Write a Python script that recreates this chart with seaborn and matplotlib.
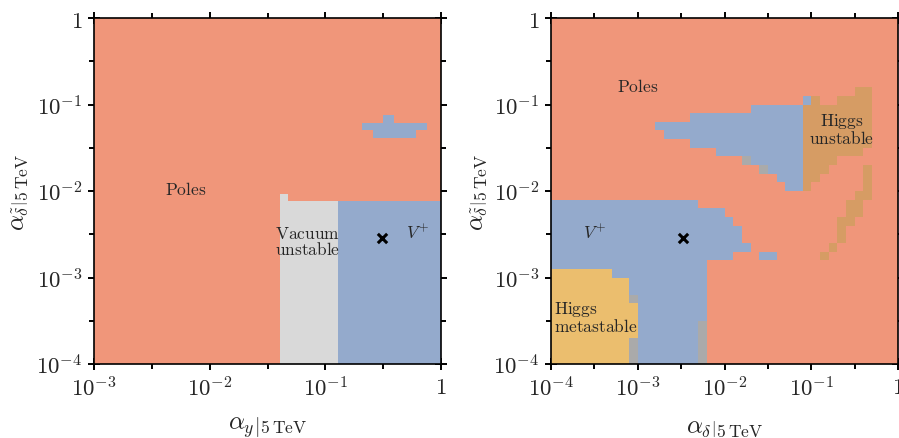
import numpy as np
import matplotlib
matplotlib.use("Agg")
import matplotlib.pyplot as plt
import seaborn as sns
from matplotlib.colors import ListedColormap, BoundaryNorm
from matplotlib.ticker import FixedLocator, NullFormatter

sns.set_theme(style="ticks")
plt.rcParams["mathtext.fontset"] = "cm"
plt.rcParams["font.family"] = ["DejaVu Serif"]

# ---------------- data ----------------
region_codes = ["P", "B", "V", "Y", "U", "G"]
region_colors = ["#F0967A", "#94AACC", "#D9D9D9", "#EBBE6E", "#D69C64", "#AAAAAA"]

# left panel: alpha_y vs alpha_delta~
left_x_range = (1e-3, 1.0)
left_y_range = (1e-4, 1.0)
vac_unstable_x = (0.0406, 0.128)      # "Vacuum unstable" band in alpha_y
stable_top = 0.0077                     # upper edge of the stable / vacuum-unstable area
vac_bump = (0.0406, 0.048, 0.0092)      # small bump on top of the grey band (x0, x1, top)
left_blob = [                           # V+ island (x0, x1, y0, y1)
    (0.2065, 0.755, 0.0512, 0.0611),
    (0.257, 0.610, 0.0410, 0.0512),
    (0.314, 0.388, 0.0611, 0.0757),
]
left_marker = (0.31, 0.0029)

# right panel: alpha_delta vs alpha_delta~, 0.1-decade cells, rows from top (run-length)
right_x_range = (1e-4, 1.0)
right_y_range = (1e-4, 1.0)
right_rows = [
    "P40", "P40", "P40", "P40", "P40", "P40", "P40", "P40",
    "P35 U2 P3",
    "P29 B1 U1 P2 U4 P3",
    "P23 B6 U8 P3",
    "P16 B13 U8 P3",
    "P12 B17 U8 P3",
    "P13 B16 U8 P3",
    "P16 B13 U8 P3",
    "P19 B10 U7 P4",
    "P22 G1 B6 U4 P7",
    "P24 G1 B4 U3 P4 U1 P3",
    "P26 B3 U2 P5 U1 P3",
    "P27 B2 U1 P6 U1 P3",
    "P35 U2 P3",
    "B17 P17 U2 P4",
    "B20 P14 U2 P4",
    "B21 P12 U2 P5",
    "B22 P11 U1 P6",
    "B22 P11 U1 P6",
    "B23 P9 U1 P7",
    "B21 P3 B2 P5 U1 P8",
    "B18 P22",
    "Y7 B11 P22",
    "Y9 B9 P22",
    "Y9 B9 P22",
    "Y9 G1 B8 P22",
    "Y10 B8 P22",
    "Y10 B8 P22",
    "Y10 B7 G1 P22",
    "Y10 B7 G1 P22",
    "Y9 G1 B7 G1 P22",
    "Y9 G1 B7 G1 P22",
    "Y9 G1 B7 G1 P22",
]
right_marker = (0.0033, 0.0029)

# ---------------- build grids ----------------
cmap = ListedColormap(region_colors)
norm = BoundaryNorm(np.arange(-0.5, len(region_codes) + 0.5), cmap.N)
code_index = {c: i for i, c in enumerate(region_codes)}

# left
lx_edges = np.logspace(np.log10(left_x_range[0]), np.log10(left_x_range[1]), 901)
ly_edges = np.logspace(np.log10(left_y_range[0]), np.log10(left_y_range[1]), 1201)
lxc = np.sqrt(lx_edges[:-1] * lx_edges[1:])
lyc = np.sqrt(ly_edges[:-1] * ly_edges[1:])
X, Y = np.meshgrid(lxc, lyc)
left_grid = np.full(X.shape, code_index["P"])
low = Y < stable_top
left_grid[low & (X >= vac_unstable_x[0]) & (X < vac_unstable_x[1])] = code_index["V"]
left_grid[low & (X >= vac_unstable_x[1])] = code_index["B"]
left_grid[(X >= vac_bump[0]) & (X < vac_bump[1]) & (Y < vac_bump[2])] = code_index["V"]
for x0, x1, y0, y1 in left_blob:
    left_grid[(X >= x0) & (X < x1) & (Y >= y0) & (Y < y1)] = code_index["B"]

# right
rows = []
for r in right_rows:
    row = []
    for tok in r.split():
        row += [code_index[tok[0]]] * int(tok[1:])
    assert len(row) == 40
    rows.append(row)
right_grid = np.array(rows)[::-1]
rx_edges = np.logspace(-4, 0, 41)
ry_edges = np.logspace(-4, 0, 41)

# ---------------- figure ----------------
fig = plt.figure(figsize=(8.99, 4.39), dpi=100)
W, H = 899, 439
axL = fig.add_axes([94 / W, 74 / H, 347 / W, 346 / H])
axR = fig.add_axes([551 / W, 74 / H, 347 / W, 346 / H])

axL.pcolormesh(lx_edges, ly_edges, left_grid, cmap=cmap, norm=norm, shading="flat",
               antialiased=False, edgecolors="none", rasterized=True)
axR.pcolormesh(rx_edges, ry_edges, right_grid, cmap=cmap, norm=norm, shading="flat",
               antialiased=False, edgecolors="none", rasterized=True)

for ax, (mx, my) in ((axL, left_marker), (axR, right_marker)):
    sns.scatterplot(x=[mx], y=[my], ax=ax, marker="x", color="black", s=45,
                    linewidth=2.2, zorder=5, legend=False)


def tick_label(v):
    e = int(round(np.log10(v)))
    return r"$1$" if e == 0 else r"$10^{%d}$" % e


def style_axis(ax, xr, yr):
    ax.set_xscale("log")
    ax.set_yscale("log")
    ax.set_xlim(*xr)
    ax.set_ylim(*yr)
    ex = np.arange(int(round(np.log10(xr[0]))), int(round(np.log10(xr[1]))) + 1)
    ey = np.arange(int(round(np.log10(yr[0]))), int(round(np.log10(yr[1]))) + 1)
    ax.xaxis.set_major_locator(FixedLocator(10.0 ** ex))
    ax.yaxis.set_major_locator(FixedLocator(10.0 ** ey))
    ax.xaxis.set_minor_locator(FixedLocator(10.0 ** (ex[:-1] + 0.5)))
    ax.yaxis.set_minor_locator(FixedLocator(10.0 ** (ey[:-1] + 0.5)))
    ax.set_xticklabels([tick_label(v) for v in 10.0 ** ex])
    ax.set_yticklabels([tick_label(v) for v in 10.0 ** ey])
    ax.xaxis.set_minor_formatter(NullFormatter())
    ax.yaxis.set_minor_formatter(NullFormatter())
    ax.tick_params(which="both", direction="inout", top=True, right=True,
                   width=1.4, color="black", labelsize=16.5, pad=4)
    ax.tick_params(which="major", length=9)
    ax.tick_params(which="minor", length=7)
    for s in ax.spines.values():
        s.set_linewidth(1.2)
        s.set_color("black")
        s.set_visible(True)
    ax.set_ylabel(r"$\left.\alpha_{\tilde{\delta}}\right|_{5\,\mathrm{TeV}}$", fontsize=18)


style_axis(axL, left_x_range, left_y_range)
style_axis(axR, right_x_range, right_y_range)
axL.set_xlabel(r"$\left.\alpha_{y}\right|_{5\,\mathrm{TeV}}$", fontsize=18)
axR.set_xlabel(r"$\left.\alpha_{\delta}\right|_{5\,\mathrm{TeV}}$", fontsize=18)
for ax, lx in ((axL, -(94 - 20) / 347), (axR, -(551 - 478) / 347)):
    ax.yaxis.set_label_coords(lx, 0.5)
    ax.xaxis.set_label_coords(0.5, -(428 - 365) / 346)
    ax.xaxis.label.set_va("center")
    ax.yaxis.label.set_va("center")

fs = 12.5
axL.text(0.0062, 0.0103, r"$\mathrm{Poles}$", ha="center", va="center", fontsize=fs)
axL.text(0.0698, 0.00259, "$\\mathrm{Vacuum}$\n$\\mathrm{unstable}$", ha="center", va="center",
         fontsize=fs, linespacing=0.95)
axL.text(0.62, 0.00333, r"$V^{+}$", ha="center", va="center", fontsize=fs)

axR.text(1.01e-3, 0.162, r"$\mathrm{Poles}$", ha="center", va="center", fontsize=fs)
axR.text(0.224, 0.052, "$\\mathrm{Higgs}$\n$\\mathrm{unstable}$", ha="center", va="center",
         fontsize=fs, linespacing=0.95)
axR.text(3.2e-4, 0.00333, r"$V^{+}$", ha="center", va="center", fontsize=fs)
axR.text(1.08e-4, 3.5e-4, "$\\mathrm{Higgs}$\n$\\mathrm{metastable}$", ha="left", va="center",
         fontsize=fs, linespacing=0.95)

fig.savefig("out.png", dpi=100)
